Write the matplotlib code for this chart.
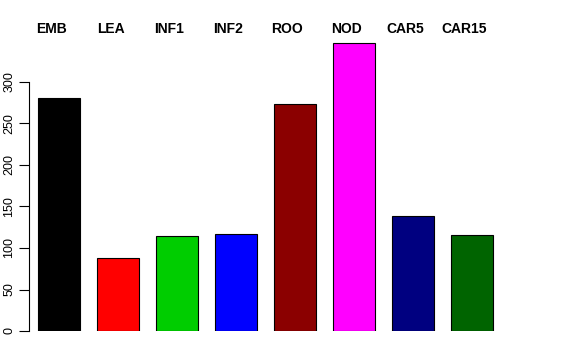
import matplotlib
matplotlib.use("Agg")
import matplotlib.pyplot as plt

categories = ["EMB", "LEA", "INF1", "INF2", "ROO", "NOD", "CAR5", "CAR15"]
values = [281, 88, 114, 117, 273, 347, 138, 116]
colors = ["#000000", "#FF0000", "#00CD00", "#0000FF", "#8B0000", "#FF00FF", "#000080", "#006400"]
yticks = [0, 50, 100, 150, 200, 250, 300]

plt.rcParams['font.family'] = ['Liberation Sans', 'DejaVu Sans']
W, H = 576, 360
fig = plt.figure(figsize=(W/100, H/100), dpi=100)

left_px, right_px = 29, 530
bottom_px, top_px = 331, 32
step = 59.0
x0 = 59.0
xmin = (left_px - x0) / step
xmax = (right_px - x0) / step
ppu = 249 / 300.0
ymax = (bottom_px - top_px) / ppu

ax = fig.add_axes([left_px / W, (H - bottom_px) / H, (right_px - left_px) / W, (bottom_px - top_px) / H])
pos = list(range(len(categories)))
ax.bar(pos, values, width=42/step, color=colors, edgecolor="black", linewidth=0.8)
ax.set_xlim(xmin, xmax)
ax.set_ylim(0, ymax)
for s in ["top", "right", "bottom"]:
    ax.spines[s].set_visible(False)
ax.spines["left"].set_bounds(0, 300)
ax.spines["left"].set_linewidth(0.8)
ax.set_xticks([])
ax.set_yticks(yticks)
ax.set_yticklabels([str(t) for t in yticks], rotation=90, va="center", fontsize=9)
ax.tick_params(axis="y", length=7, width=0.8, pad=3)

for p, c in zip(pos, categories):
    fig.text((x0 + p * step - 7.5) / W, 1 - 29 / H, c, ha="center", va="center",
             fontsize=10, fontweight="bold")

fig.savefig("out.png", dpi=100)
